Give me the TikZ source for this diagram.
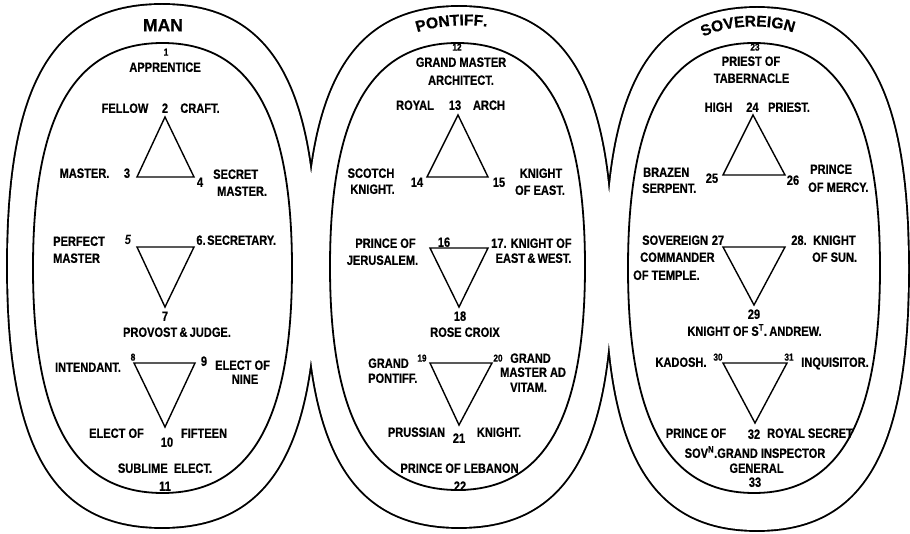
\documentclass[tikz,border=0pt]{standalone}
\usepackage{fontspec}
\setmainfont{Liberation Sans}[FakeStretch=0.82, BoldFeatures={FakeBold=0.6}]
\newfontfamily\ttlfont{Liberation Sans}[BoldFeatures={FakeBold=0.6}]
\usetikzlibrary{decorations.text}
\tikzset{
 ovalpath/.style n args={5}{insert path={({#1-#3},{#2}) .. controls ({#1-#3},{#2-#5*#4}) and ({#1-#5*#3},{#2-#4}) .. ({#1},{#2-#4}) .. controls ({#1+#5*#3},{#2-#4}) and ({#1+#3},{#2-#5*#4}) .. ({#1+#3},{#2}) .. controls ({#1+#3},{#2+#5*#4}) and ({#1+#5*#3},{#2+#4}) .. ({#1},{#2+#4}) .. controls ({#1-#5*#3},{#2+#4}) and ({#1-#3},{#2+#5*#4}) .. cycle}},
 lbl/.style={font=\fontsize{13.5}{14}\selectfont\bfseries, inner sep=0pt, text height=9.7pt, text depth=0pt},
 sm/.style={font=\fontsize{10}{11}\selectfont\bfseries, inner sep=0pt, text height=7.2pt, text depth=0pt},
 ttl/.style={font=\ttlfont\fontsize{17.5}{18}\selectfont\bfseries, inner sep=0pt, text height=12.5pt, text depth=0pt},
 tri/.style={line width=1.4pt, line join=miter},
 outerline/.style={line width=3.8pt},
 innerline/.style={line width=1.8pt},
}
\begin{document}
\begin{tikzpicture}[x=1pt,y=-1pt]
\useasboundingbox (0,0) rectangle (910,534);
% outer union outline
\draw[outerline] [ovalpath={162}{266}{154}{261}{0.7}];
\draw[outerline] [ovalpath={459}{267}{153}{260}{0.7}];
\draw[outerline] [ovalpath={757}{269}{151}{261}{0.7}];
\fill[white] [ovalpath={162}{266}{154}{261}{0.7}];
\fill[white] [ovalpath={459}{267}{153}{260}{0.7}];
\fill[white] [ovalpath={757}{269}{151}{261}{0.7}];
% inner ovals
\draw[innerline] [ovalpath={162.5}{268}{129.5}{225}{0.68}];
\draw[innerline] [ovalpath={457.5}{266.5}{127.5}{223.5}{0.68}];
\draw[innerline] [ovalpath={754}{268}{126}{225}{0.68}];

% ===== MAN =====
\node[ttl] (mT) at (163,25) {MAN};
\node[sm] (m1) at (166,52) {1};
\node[lbl] (mApp) at (165,67) {APPRENTICE};
\node[lbl] (mFel) at (125,108) {FELLOW};
\node[lbl] (m2) at (165,108) {2};
\node[lbl] (mCra) at (200,108) {CRAFT.};
\coordinate (v2) at (165,117);
\coordinate (v3) at (137,177);
\coordinate (v4) at (194,177);
\draw[tri] (v2) -- (v3) -- (v4) -- cycle;
\node[lbl] (mMas) at (84.5,173) {MASTER.};
\node[lbl] (m3) at (127,173) {3};
\node[lbl] (m4) at (200,182) {4};
\node[lbl,anchor=west] (mSec) at (213,174) {SECRET};
\node[lbl,anchor=west] (mSecM) at (217,191) {MASTER.};
\node[lbl,anchor=west] (mPer) at (53,241) {PERFECT};
\node[lbl,anchor=west] (mPerM) at (53,258) {MASTER};
\node[lbl] (m5) at (128,240) {\itshape 5};
\node[lbl] (m6) at (201,240) {6.};
\node[lbl,anchor=west] (mSecr) at (207,240) {SECRETARY.};
\coordinate (v5) at (137,247);
\coordinate (v6) at (194,247);
\coordinate (v7) at (165,307);
\draw[tri] (v5) -- (v6) -- (v7) -- cycle;
\node[lbl] (m7) at (165,316) {7};
\node[lbl] (mPro) at (177,332) {PROVOST\,\&\,JUDGE.};
\node[lbl] (mInt) at (88,367) {INTENDANT.};
\node[sm] (m8) at (133,357) {8};
\node[lbl] (m9) at (204,361) {9};
\node[lbl,anchor=west] (mEl9) at (215,365) {ELECT OF};
\node[lbl] (mNine) at (245,379) {NINE};
\coordinate (v8) at (134,363);
\coordinate (v9) at (195,363);
\coordinate (v10) at (165,427);
\draw[tri] (v8) -- (v9) -- (v10) -- cycle;
\node[lbl] (mEl15) at (116.5,433) {ELECT OF};
\node[lbl] (m10) at (167,442) {10};
\node[lbl] (mFif) at (204,433) {FIFTEEN};
\node[lbl] (mSub) at (165,468) {SUBLIME\ \ ELECT.};
\node[lbl] (m11) at (165,486) {11};

% ===== PONTIFF =====
\path[decorate, decoration={text along path, text align=center, text={|\ttlfont\fontsize{15.5}{16}\selectfont\bfseries|PONTIFF.}}]
  (405,37) .. controls (430,25) and (470,22) .. (500,29);
\node[sm] (p12) at (457,47) {12};
\node[lbl] (pGM) at (461,62) {GRAND MASTER};
\node[lbl] (pArc) at (461,80) {ARCHITECT.};
\node[lbl] (pRoy) at (415,105) {ROYAL};
\node[lbl] (p13) at (455,105) {13};
\node[lbl] (pArch) at (489,105) {ARCH};
\coordinate (v13) at (458,115);
\coordinate (v14) at (427,177);
\coordinate (v15) at (488,177);
\draw[tri] (v13) -- (v14) -- (v15) -- cycle;
\node[lbl] (pSc) at (371,173) {SCOTCH};
\node[lbl] (pScK) at (372.5,189) {KNIGHT.};
\node[lbl] (p14) at (417,182) {14};
\node[lbl] (p15) at (499,182) {15};
\node[lbl] (pKn) at (541,173) {KNIGHT};
\node[lbl] (pOE) at (540,190) {OF EAST.};
\node[lbl] (pPr) at (385.5,243) {PRINCE OF};
\node[lbl] (p16) at (444,242) {16};
\node[lbl] (pJer) at (382.5,260) {JERUSALEM.};
\coordinate (v16) at (430,248);
\coordinate (v17) at (488,248);
\coordinate (v18) at (459,307);
\draw[tri] (v16) -- (v17) -- (v18) -- cycle;
\node[lbl,anchor=west] (p17) at (491,243) {17. KNIGHT OF};
\node[lbl] (pEW) at (533.5,258) {EAST\,\&\,WEST.};
\node[lbl] (p18) at (460,316) {18};
\node[lbl] (pRC) at (465,332) {ROSE CROIX};
\node[lbl,anchor=west] (pGr) at (368,363) {GRAND};
\node[lbl,anchor=west] (pPon) at (368,378) {PONTIFF.};
\node[sm] (p19) at (422,358) {19};
\coordinate (v19) at (430,363);
\coordinate (v20) at (492,363);
\coordinate (v21) at (459,425);
\draw[tri] (v19) -- (v20) -- (v21) -- cycle;
\node[sm] (p20) at (498,358) {20};
\node[lbl,anchor=west] (pGr2) at (510,358) {GRAND};
\node[lbl,anchor=west] (pMA) at (500,372) {MASTER AD};
\node[lbl,anchor=west] (pVit) at (510,387) {VITAM.};
\node[lbl] (pPru) at (416.5,432) {PRUSSIAN};
\node[lbl] (p21) at (459,438) {21};
\node[lbl] (pKn2) at (499,432) {KNIGHT.};
\node[lbl] (pLeb) at (459.5,468) {PRINCE OF LEBANON};
\node[lbl] (p22) at (460,486) {22};

% ===== SOVEREIGN =====
\path[decorate, decoration={text along path, text align=center, text={|\ttlfont\fontsize{15.5}{16}\selectfont\bfseries|SOVEREIGN}}]
  (698,40) .. controls (722,24) and (772,22) .. (799,35);
\node[sm] (s23) at (755,47) {23};
\node[lbl] (sPri) at (751,61) {PRIEST OF};
\node[lbl] (sTab) at (751.5,78) {TABERNACLE};
\node[lbl] (sHi) at (718.5,107) {HIGH};
\node[lbl] (s24) at (752.5,107) {24};
\node[lbl] (sPr2) at (789,107) {PRIEST.};
\coordinate (v24) at (753,115);
\coordinate (v25) at (723,175);
\coordinate (v26) at (785,175);
\draw[tri] (v24) -- (v25) -- (v26) -- cycle;
\node[lbl,anchor=west] (sBr) at (643,172) {BRAZEN};
\node[lbl,anchor=west] (sSer) at (642,188) {SERPENT.};
\node[lbl] (s25) at (712,178) {25};
\node[lbl] (s26) at (793,180) {26};
\node[lbl,anchor=west] (sPc) at (810,169) {PRINCE};
\node[lbl,anchor=west] (sOM) at (808,187) {OF MERCY.};
\node[lbl,anchor=west] (sSov) at (642,240) {SOVEREIGN};
\node[lbl] (s27) at (718,240) {27};
\node[lbl,anchor=west] (sCom) at (640,257) {COMMANDER};
\node[lbl,anchor=west] (sTem) at (633,275) {OF TEMPLE.};
\coordinate (v27) at (723,247);
\coordinate (v28) at (785,247);
\coordinate (v29) at (754,305);
\draw[tri] (v27) -- (v28) -- (v29) -- cycle;
\node[lbl] (s28) at (799,240) {28.};
\node[lbl,anchor=west] (sKn) at (813,240) {KNIGHT};
\node[lbl,anchor=west] (sSun) at (812,257) {OF SUN.};
\node[lbl] (s29) at (754,314) {29};
\node[lbl] (sAnd) at (754.5,331) {KNIGHT OF S\textsuperscript{T}.\,ANDREW.};
\node[lbl] (sKad) at (681,362) {KADOSH.};
\node[sm] (s30) at (718,357) {30};
\coordinate (v30) at (723,363);
\coordinate (v31) at (787,363);
\coordinate (v32) at (755,423);
\draw[tri] (v30) -- (v31) -- (v32) -- cycle;
\node[sm] (s31) at (789,357) {31};
\node[lbl] (sInq) at (835,362) {INQUISITOR.};
\node[lbl] (sPOf) at (696,433) {PRINCE OF};
\node[lbl] (s32) at (754,434) {32};
\node[lbl] (sRS) at (810,433) {ROYAL SECRET};
\node[lbl] (sGI) at (755,453) {SOV\textsuperscript{N}.GRAND INSPECTOR};
\node[lbl] (sGen) at (756.5,468) {GENERAL};
\node[lbl] (s33) at (755,482) {33};
\end{tikzpicture}
\end{document}
